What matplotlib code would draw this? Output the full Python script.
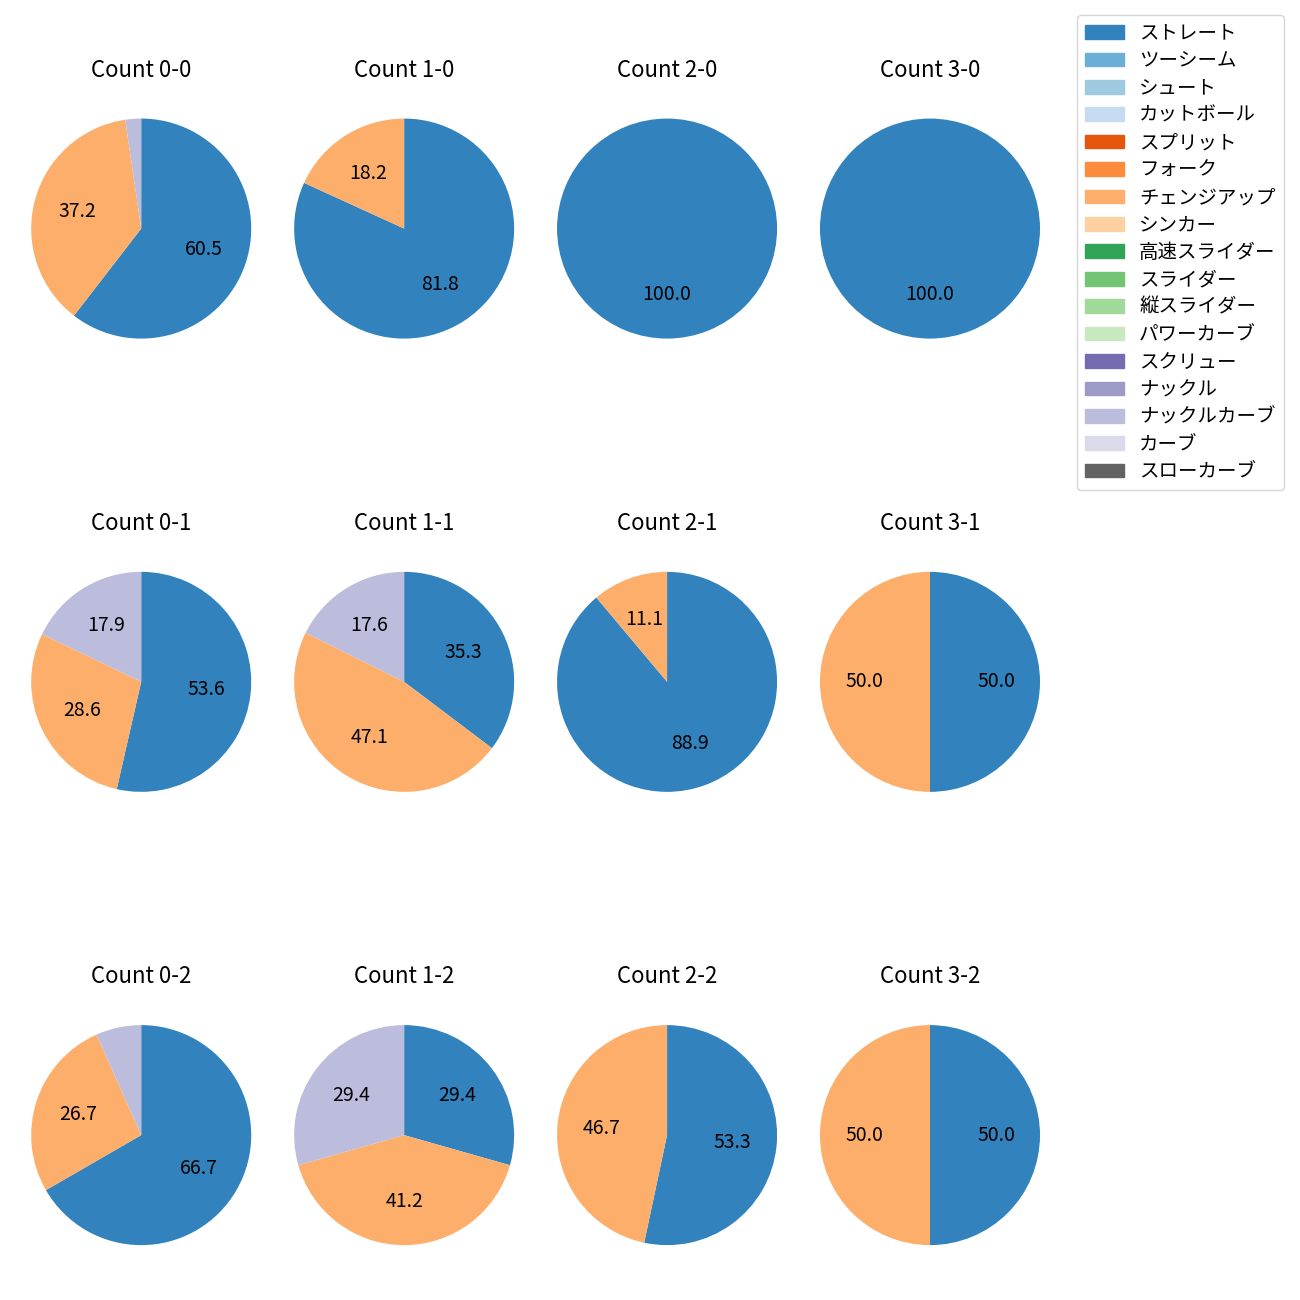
import matplotlib
matplotlib.use('Agg')
import matplotlib.pyplot as plt
import numpy as np

plt.rcParams['font.family'] = ['Noto Sans CJK JP', 'DejaVu Sans']

pitch_types = ['ストレート', 'ツーシーム', 'シュート', 'カットボール', 'スプリット', 'フォーク',
               'チェンジアップ', 'シンカー', '高速スライダー', 'スライダー', '縦スライダー',
               'パワーカーブ', 'スクリュー', 'ナックル', 'ナックルカーブ', 'カーブ', 'スローカーブ']
pitch_colors = ['#3182bd', '#6baed6', '#9ecae1', '#c6dbef', '#e6550d', '#fd8d3c',
                '#fdae6b', '#fdd0a2', '#31a354', '#74c476', '#a1d99b', '#c7e9c0',
                '#756bb1', '#9e9ac8', '#bcbddc', '#dadaeb', '#636363']

# counts per pitch: straight, changeup, knuckle curve
used_pitches = ['ストレート', 'チェンジアップ', 'ナックルカーブ']
counts = {
    '0-0': [26, 16, 1],
    '1-0': [9, 2, 0],
    '2-0': [3, 0, 0],
    '3-0': [1, 0, 0],
    '0-1': [15, 8, 5],
    '1-1': [6, 8, 3],
    '2-1': [8, 1, 0],
    '3-1': [1, 1, 0],
    '0-2': [10, 4, 1],
    '1-2': [5, 7, 5],
    '2-2': [8, 7, 0],
    '3-2': [2, 2, 0],
}
strikes = [0, 1, 2]
balls = [0, 1, 2, 3]


def fmt_pct(p):
    return '%.1f' % p if p >= 10 else ''


fig, axes = plt.subplots(3, 4, figsize=(13, 13))
plt.subplots_adjust(left=0.024, right=0.8, top=0.935, bottom=0.016, wspace=0.195, hspace=0.573)

for r, s in enumerate(strikes):
    for c, b in enumerate(balls):
        ax = axes[r, c]
        key = '%d-%d' % (b, s)
        vals = np.array(counts[key])
        mask = vals > 0
        cols = [pitch_colors[pitch_types.index(p)] for p, m in zip(used_pitches, mask) if m]
        ax.pie(vals[mask], colors=cols, startangle=90, counterclock=False, radius=1.25,
               autopct=fmt_pct, textprops={'fontsize': 14})
        ax.set_title('Count ' + key, fontsize=16, pad=30)
        ax.set_aspect('equal')

handles = [plt.Rectangle((0, 0), 1, 1, color=c) for c in pitch_colors]
fig.legend(handles, pitch_types, loc='upper left', bbox_to_anchor=(1077 / 1300, 1 - 15 / 1300),
           fontsize=14, labelspacing=0.33, borderaxespad=0)

plt.savefig('out.png', dpi=100)
